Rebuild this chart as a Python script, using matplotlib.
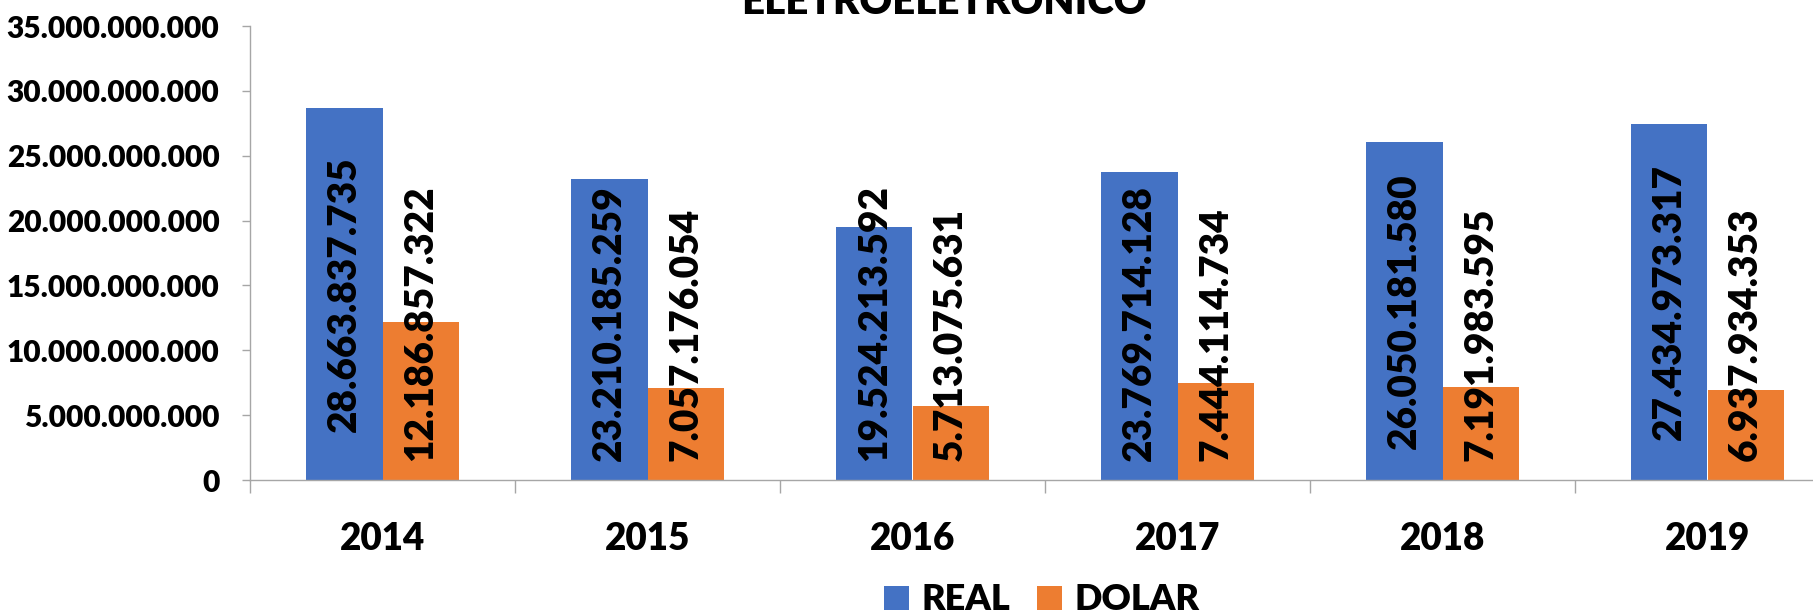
import numpy as np
import matplotlib
matplotlib.use('Agg')
import matplotlib.pyplot as plt
from matplotlib.patches import Patch
from matplotlib.ticker import FuncFormatter, FixedLocator

# data
anos = ['2014', '2015', '2016', '2017', '2018', '2019']
real = [28663837735, 23210185259, 19524213592, 23769714128, 26050181580, 27434973317]
dolar = [12186857322, 7057176054, 5713075631, 7444114734, 7191983595, 6937934353]
series_names = ['REAL', 'DOLAR']
titulo = 'ELETROELETRONICO'

cor_real = '#4472C4'
cor_dolar = '#ED7D31'
cor_eixo = '#A6A6A6'

peso = 'heavy'
plt.rcParams['font.family'] = ['Lato', 'DejaVu Sans']
plt.rcParams['font.weight'] = peso


def fmt_pt(v, pos=None):
    # brazilian thousands separator
    return '{:,.0f}'.format(v).replace(',', '.')


fig = plt.figure(figsize=(18.13, 6.15), dpi=100)
ax = fig.add_axes([250 / 1813, 1 - 480 / 615, 1590 / 1813, 454 / 615])

x = np.arange(len(anos))
w = 0.287
b1 = ax.bar(x - w / 2, real, w, color=cor_real, zorder=2)
b2 = ax.bar(x + w / 2, dolar, w, color=cor_dolar, zorder=2)

ax.set_xlim(-0.5, len(anos) - 0.5)
ax.set_ylim(0, 35e9)
ax.set_yticks(np.arange(0, 35e9 + 1, 5e9))
ax.yaxis.set_major_formatter(FuncFormatter(fmt_pt))

# category boundaries as major ticks, labels on minor ticks
ax.xaxis.set_major_locator(FixedLocator(np.arange(-0.5, len(anos), 1.0)))
ax.xaxis.set_major_formatter(FuncFormatter(lambda v, p: ''))
ax.xaxis.set_minor_locator(FixedLocator(x))
ax.set_xticklabels(anos, minor=True)
ax.tick_params(axis='x', which='major', length=9.5, width=1, color=cor_eixo, direction='out')
ax.tick_params(axis='x', which='minor', length=0, pad=30, labelsize=26.5)
ax.tick_params(axis='y', length=6, width=1, color=cor_eixo, pad=16, labelsize=21.5)
for lab in ax.get_xticklabels(minor=True) + ax.get_yticklabels():
    lab.set_fontweight(peso)

for s in ['top', 'right']:
    ax.spines[s].set_visible(False)
for s in ['left', 'bottom']:
    ax.spines[s].set_color(cor_eixo)
    ax.spines[s].set_linewidth(1)

# data labels, rotated, centered in bar but kept above the axis
textos = []
for bars, vals in [(b1, real), (b2, dolar)]:
    for rect, v in zip(bars, vals):
        t = ax.text(rect.get_x() + rect.get_width() / 2, v / 2, fmt_pt(v),
                    rotation=90, ha='center', va='center', fontsize=28,
                    fontweight=peso, color='black', zorder=3)
        textos.append(t)

fig.canvas.draw()
r = fig.canvas.get_renderer()
y0_px = ax.transData.transform((0, 0))[1]
for t in textos:
    bb = t.get_window_extent(renderer=r)
    if bb.y0 < y0_px + 19:
        novo = ax.transData.inverted().transform((0, y0_px + 19 + bb.height / 2))
        t.set_position((t.get_position()[0], novo[1]))

fig.text(944 / 1813, 1 - 14 / 615, titulo, ha='center', va='baseline',
         fontsize=29, fontweight=peso)

handles = [Patch(facecolor=cor_real, edgecolor='none'),
           Patch(facecolor=cor_dolar, edgecolor='none')]
fig.legend(handles, series_names, loc='center', bbox_to_anchor=(1042 / 1813, 1 - 600 / 615),
           ncol=2, frameon=False, prop={'size': 26, 'weight': peso},
           handlelength=0.67, handleheight=0.67, handletextpad=0.36,
           columnspacing=0.75, borderpad=0)

fig.savefig('out.png', dpi=100)
